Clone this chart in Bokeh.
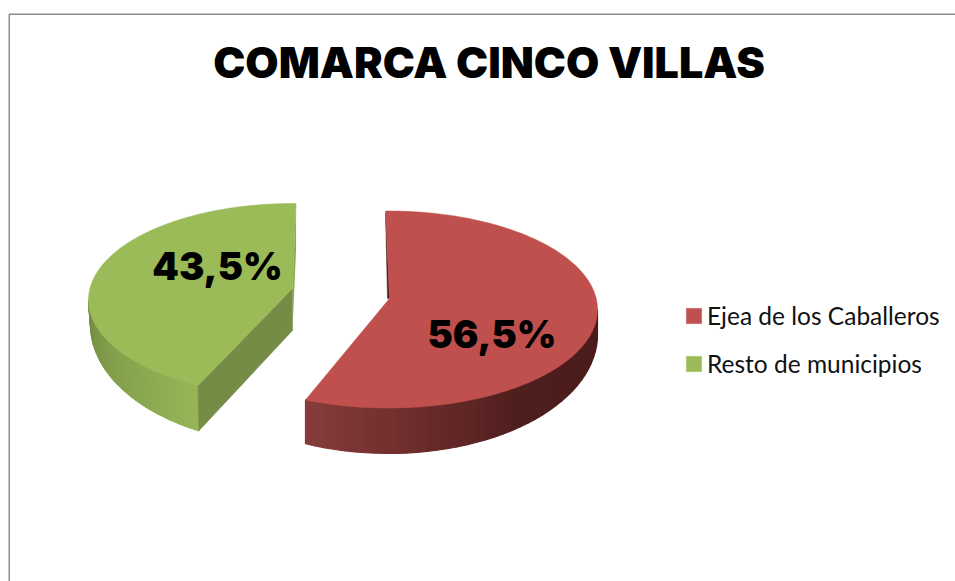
import numpy as np
from bokeh.core.properties import value
from bokeh.embed import file_html
from bokeh.models import Legend, LegendItem, Range1d
from bokeh.plotting import figure
from bokeh.resources import INLINE

TITLE = "COMARCA CINCO VILLAS"
categories = ["Ejea de los Caballeros", "Resto de municipios"]
shares = [56.5, 43.5]
labels = ["56,5%", "43,5%"]
top_colors = ["#C0504D", "#9BBB59"]
cut_colors = ["#4A1C1B", "#748C46"]
back_colors = ["#4A1C1B", "#8AA650"]
wall_stops = [
    [(0.0, "#4A1C1B"), (0.45, "#4E1E1D"), (0.75, "#6E2D2C"), (1.0, "#863B3B")],
    [(0.0, "#96B556"), (0.55, "#82A04B"), (1.0, "#728A44")],
]

W, H = 955, 581
p = figure(width=W, height=H, x_range=Range1d(0, W), y_range=Range1d(H, 0),
           toolbar_location=None, output_backend="svg", min_border=0,
           x_axis_type=None, y_axis_type=None, outline_line_color=None,
           background_fill_color="white", border_fill_color="white")
p.grid.visible = False


def hex2rgb(c):
    return np.array([int(c[i:i + 2], 16) for i in (1, 3, 5)], float)


def wall_colour(stops, f):
    for (f0, c0), (f1, c1) in zip(stops, stops[1:]):
        if f <= f1:
            m = (f - f0) / (f1 - f0)
            r = hex2rgb(c0) * (1 - m) + hex2rgb(c1) * m
            return "#%02X%02X%02X" % tuple(int(round(v)) for v in r)
    return stops[-1][1]


def arc(e, t):
    r = np.radians(t)
    return e["cx"] + e["rx"] * np.sin(r), e["cy"] - e["ry"] * np.cos(r)


# exploded pseudo-3D wedges; angles clockwise from twelve o'clock
boundary = float(shares[0]) / sum(shares) * 360
views = [
    dict(top=dict(cx=388, cy=309, rx=209, ry=98.5), bot=dict(cx=388, cy=334, rx=209, ry=119),
         apex=(389, 298), t0=-0.8, t1=boundary, wall=(90.0, boundary)),
    dict(top=dict(cx=292, cy=299.5, rx=204, ry=96.5), bot=dict(cx=292, cy=324, rx=202, ry=120),
         apex=(292, 288), t0=boundary + 4.2, t1=361.0, wall=(boundary + 4.2, 270.0)),
]

tops = []
for i, v in enumerate(views):
    # curved outer wall as shaded bands, each running under the next one
    a, b = v["wall"]
    ts = np.linspace(a, b, 41)
    bxs, bys, cols = [], [], []
    for k in range(len(ts) - 1):
        t = np.array([ts[k], ts[k + 1]])
        x0, y0 = arc(v["top"], t)
        x1, y1 = arc(v["bot"], t)
        bxs.append([x0[0], x0[1], x1[1], x1[0]])
        bys.append([y0[0], y0[1], y1[1], y1[0]])
        cols.append(wall_colour(wall_stops[i], k / (len(ts) - 2)))
    p.patches(bxs, bys, fill_color=cols, line_color=cols, line_width=1.2)

    ax, ay = v["apex"]
    # flat cut faces
    if i == 1:
        x0, y0 = arc(v["top"], v["t0"])
        x1, y1 = arc(v["bot"], v["t0"])
        p.patch([x0, ax, ax, x1], [y0, ay, ay + 42, y1], fill_color=cut_colors[i], line_color=cut_colors[i], line_width=0.5)
        xe, ye = arc(v["top"], v["t1"])
        p.patch([xe, ax, ax, xe], [ye, ay, ay + 42, ye + 45], fill_color=back_colors[i], line_color=None)
    else:
        xe, ye = arc(v["top"], v["t0"])
        p.patch([xe, ax - 2, ax, xe], [ye + 2, ay, ay, ye + 2], fill_color=back_colors[i], line_color=back_colors[i], line_width=0.5)

    # top surface
    ts = np.linspace(v["t0"], v["t1"], 181)
    tx, ty = arc(v["top"], ts)
    r = p.patch(np.r_[ax, tx], np.r_[ay, ty], fill_color=top_colors[i], line_color=top_colors[i], line_width=0.5)
    tops.append(r)

# frame of the chart area
p.line([8.75, 8.75, W], [H, 13.75, 13.75], line_color="#8C8C8C", line_width=1.5)

# titles and value labels
p.text([488.5], [61], text=[TITLE], text_font=value("Inter Black"), text_font_style="normal",
       text_font_size="43px", text_align="center", text_baseline="middle", text_color="black")
p.text([491.5, 217], [333, 265], text=labels, text_font=value("Inter Black"), text_font_style="normal",
       text_font_size="38px", text_align="center", text_baseline="middle", text_color="black")

legend = Legend(items=[LegendItem(label=c, renderers=[r]) for c, r in zip(categories, tops)],
                location=(684, H - 378), orientation="vertical",
                background_fill_alpha=0, border_line_color=None,
                glyph_width=19, glyph_height=19, label_standoff=4, spacing=18, margin=0, padding=0,
                label_text_font="Lato", label_text_font_size="24.5px", label_text_color="#111111",
                label_height=30)
p.add_layout(legend, "center")

open("out.html", "w").write(file_html(p, INLINE))
